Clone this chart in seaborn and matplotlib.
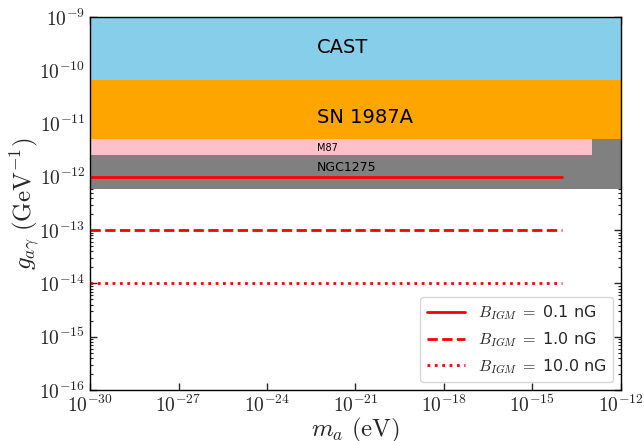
import numpy as np
import pandas as pd
import matplotlib
matplotlib.use("Agg")
import matplotlib.pyplot as plt
import matplotlib.ticker as mticker
import seaborn as sns

# ---- data ----
band_names = ["CAST", "SN 1987A", "NGC1275", "M87"]
band_lo = [6.6e-11, 5.1e-12, 5.9e-13, 2.57e-12]
band_hi = [1e-9, 6.6e-11, 5.1e-12, 5.1e-12]
band_xmax = [1e-12, 1e-12, 1e-12, 1.05e-13]
band_colors = ["skyblue", "orange", "gray", "pink"]
band_text_y = [2.7e-10, 1.3e-11, 1.5e-12, 3.5e-12]
band_text_size = [14, 14, 9, 7]
text_x = 5e-23

B_labels = ["0.1", "1.0", "10.0"]
g_values = [1e-12, 1e-13, 1e-14]
m_range = [1e-30, 1e-14]
line_styles = ["-", "--", ":"]

sns.set_style("ticks")
plt.rcParams["mathtext.fontset"] = "cm"
plt.rcParams["font.family"] = ["DejaVu Sans"]

fig = plt.figure(figsize=(6.44, 4.41), dpi=100)
ax = fig.add_axes([0.14, 0.1156, 0.824, 0.846])

for name, lo, hi, xm, c in zip(band_names, band_lo, band_hi, band_xmax, band_colors):
    ax.fill_between([1e-30, xm], [lo, lo], [hi, hi], color=c, lw=0, zorder=1)

for name, ty, fs in zip(band_names, band_text_y, band_text_size):
    ax.text(text_x, ty, name, fontsize=fs, va="center", ha="left", color="black", zorder=3)

def make_label(b):
    return r"$B_{IGM}\;=$ " + b + " nG"

rows = []
for b, g in zip(B_labels, g_values):
    for m in m_range:
        rows.append({"m": m, "g": g, "B": make_label(b)})
df = pd.DataFrame(rows)
hue_order = [make_label(b) for b in B_labels]
for lab, ls in zip(hue_order, line_styles):
    sub = df[df["B"] == lab]
    sns.lineplot(data=sub, x="m", y="g", ax=ax, color="red", lw=2, linestyle=ls,
                 label=lab, zorder=2)

ax.set_xscale("log")
ax.set_yscale("log")
ax.set_xlim(1e-30, 1e-12)
ax.set_ylim(1e-16, 1e-9)

fmt = mticker.FuncFormatter(lambda v, p: r"$10^{%d}$" % int(round(np.log10(v))))
ax.xaxis.set_major_locator(mticker.FixedLocator([10.0**e for e in range(-30, -11, 3)]))
ax.xaxis.set_minor_locator(mticker.NullLocator())
ax.yaxis.set_major_locator(mticker.LogLocator(base=10, numticks=20))
ax.yaxis.set_minor_locator(mticker.LogLocator(base=10, subs=np.arange(2, 10), numticks=20))
ax.yaxis.set_minor_formatter(mticker.NullFormatter())
ax.xaxis.set_major_formatter(fmt)
ax.yaxis.set_major_formatter(fmt)
ax.tick_params(which="both", direction="in", top=True, right=True, labelsize=14)
ax.tick_params(which="major", length=5, width=1)
ax.tick_params(which="minor", length=2.5, width=0.8)
for s in ax.spines.values():
    s.set_color("black")
    s.set_linewidth(1)

ax.set_xlabel(r"$m_a\ (\mathrm{eV})$", fontsize=18, labelpad=0)
ax.set_ylabel(r"$g_{a\gamma}\ (\mathrm{GeV}^{-1})$", fontsize=18, labelpad=-2)

leg = ax.legend(loc="lower right", fontsize=11.5, frameon=True, handlelength=2.4)
leg.get_frame().set_edgecolor("#cccccc")

fig.savefig("out.png", dpi=100)
